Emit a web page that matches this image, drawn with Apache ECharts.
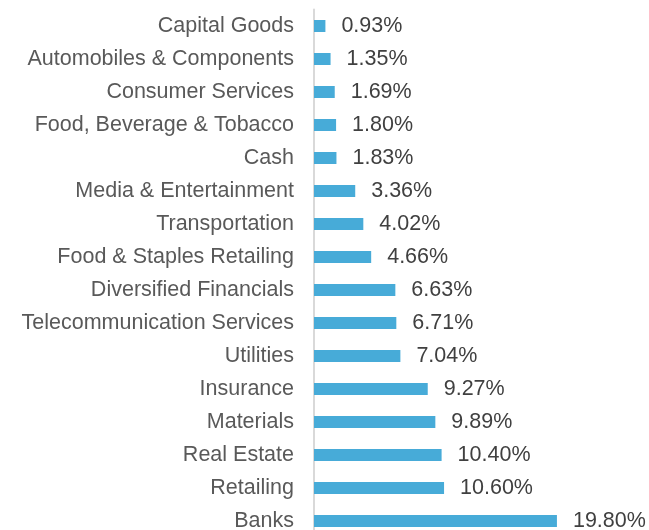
<!DOCTYPE html>
<html><head><meta charset="utf-8">
<script src="https://cdn.jsdelivr.net/npm/echarts@6/dist/echarts.min.js"></script>
<style>html,body{margin:0;padding:0;background:#fff}#c{width:649px;height:530px}</style>
</head><body><div id="c"></div>
<script>
const categories = ["Capital Goods","Automobiles & Components","Consumer Services","Food, Beverage & Tobacco","Cash","Media & Entertainment","Transportation","Food & Staples Retailing","Diversified Financials","Telecommunication Services","Utilities","Insurance","Materials","Real Estate","Retailing","Banks"];
const values = [0.93,1.35,1.69,1.80,1.83,3.36,4.02,4.66,6.63,6.71,7.04,9.27,9.89,10.40,10.60,19.80];

const chart = echarts.init(document.getElementById('c'), null, {renderer:'canvas'});
const FONT = '"Liberation Sans", Arial, sans-serif';
chart.setOption({
  animation:false,
  grid:{left:314, width:319, top:9.5, height:528, containLabel:false, outerBoundsMode:'none'},
  xAxis:{type:'value', min:0, max:26, show:false},
  yAxis:{type:'category', data:categories, inverse:true,
    axisLine:{show:true, lineStyle:{color:'#d9d9d9', width:2}},
    axisTick:{show:false},
    axisLabel:{color:'#595959', fontSize:21.5, fontFamily:FONT, margin:20}
  },
  series:[{type:'bar', data:values, barWidth:12, itemStyle:{color:'#47ABD8'},
    label:{show:true, position:'right', distance:16, color:'#404040', fontSize:21.5, fontFamily:FONT,
      formatter:p=>p.value.toFixed(2)+'%'}
  }]
});
</script></body></html>
